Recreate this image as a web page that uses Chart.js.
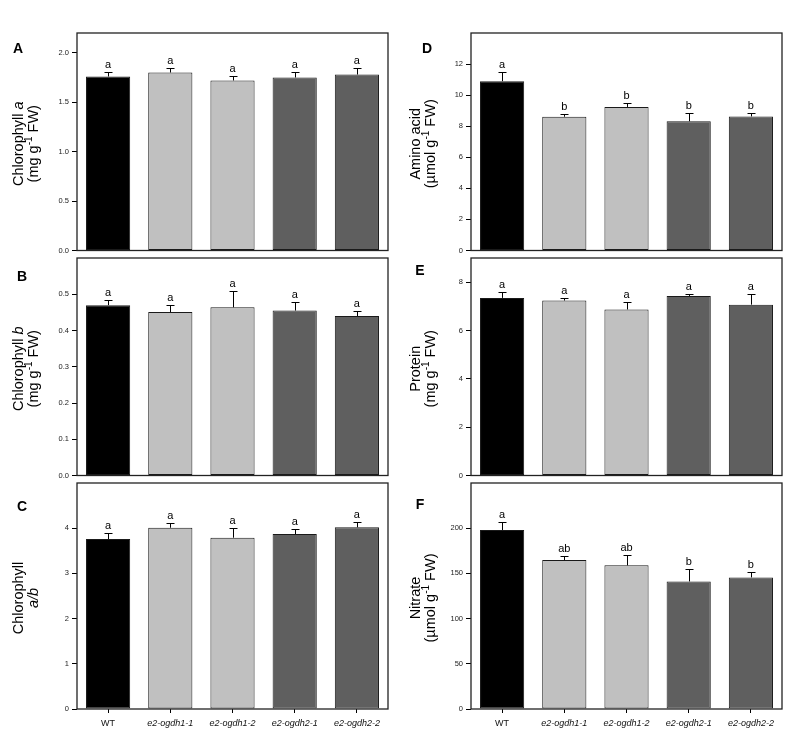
<!DOCTYPE html>
<html>
<head>
<meta charset="utf-8">
<script src="https://cdn.jsdelivr.net/npm/chart.js@4.4.1/dist/chart.umd.min.js"></script>
<style>
  body { margin: 0; background: #fff; }
  #wrap { position: relative; width: 800px; height: 738px; }
  canvas { position: absolute; }
</style>
</head>
<body>
<div id="wrap"></div>
<script>
const groups = ['WT', 'e2-ogdh1-1', 'e2-ogdh1-2', 'e2-ogdh2-1', 'e2-ogdh2-2'];
const barColors = ['#000000', '#c0c0c0', '#c0c0c0', '#5f5f5f', '#5f5f5f'];

// A: chlorophyll a (mg g-1 FW)
const chlA = [1.76, 1.80, 1.72, 1.75, 1.78];
const chlAErr = [0.05, 0.05, 0.05, 0.06, 0.07];
const chlALetters = ['a', 'a', 'a', 'a', 'a'];
// B: chlorophyll b (mg g-1 FW)
const chlB = [0.470, 0.451, 0.464, 0.455, 0.440];
const chlBErr = [0.013, 0.019, 0.045, 0.025, 0.015];
const chlBLetters = ['a', 'a', 'a', 'a', 'a'];
// C: chlorophyll a/b
const chlAB = [3.76, 4.01, 3.79, 3.87, 4.02];
const chlABErr = [0.13, 0.11, 0.22, 0.12, 0.12];
const chlABLetters = ['a', 'a', 'a', 'a', 'a'];
// D: amino acid (umol g-1 FW)
const aminoAcid = [10.9, 8.61, 9.24, 8.32, 8.63];
const aminoErr = [0.56, 0.17, 0.24, 0.52, 0.19];
const aminoLetters = ['a', 'b', 'b', 'b', 'b'];
// E: protein (mg g-1 FW)
const protein = [7.35, 7.24, 6.87, 7.43, 7.07];
const proteinErr = [0.24, 0.11, 0.32, 0.08, 0.45];
const proteinLetters = ['a', 'a', 'a', 'a', 'a'];
// F: nitrate (umol g-1 FW)
const nitrate = [198, 164.7, 158.9, 141.1, 145.6];
const nitrateErr = [9, 5, 11.4, 14.1, 5.9];
const nitrateLetters = ['a', 'ab', 'ab', 'b', 'b'];

const FONT = '"Liberation Sans", Arial, sans-serif';

const mgUnit = [{ t: '(mg g' }, { t: '-1', sup: true }, { t: ' FW)' }];
const umolUnit = [{ t: '(\u00b5mol g' }, { t: '-1', sup: true }, { t: ' FW)' }];

const panels = [
  { tag: 'A', col: 0, row: 0, values: chlA, errors: chlAErr, letters: chlALetters, max: 2.2, step: 0.5, dec: 1,
    tagPos: [18, 49], title: [[{ t: 'Chlorophyll ' }, { t: 'a', it: true }], mgUnit] },
  { tag: 'B', col: 0, row: 1, values: chlB, errors: chlBErr, letters: chlBLetters, max: 0.6, step: 0.1, dec: 1,
    tagPos: [22, 277], title: [[{ t: 'Chlorophyll ' }, { t: 'b', it: true }], mgUnit] },
  { tag: 'C', col: 0, row: 2, values: chlAB, errors: chlABErr, letters: chlABLetters, max: 5, step: 1, dec: 0,
    tagPos: [22, 507], title: [[{ t: 'Chlorophyll' }], [{ t: 'a/b', it: true }]] },
  { tag: 'D', col: 1, row: 0, values: aminoAcid, errors: aminoErr, letters: aminoLetters, max: 14, step: 2, dec: 0,
    tagPos: [427, 49], title: [[{ t: 'Amino acid' }], umolUnit] },
  { tag: 'E', col: 1, row: 1, values: protein, errors: proteinErr, letters: proteinLetters, max: 9, step: 2, dec: 0,
    tagPos: [420, 271], title: [[{ t: 'Protein' }], mgUnit] },
  { tag: 'F', col: 1, row: 2, values: nitrate, errors: nitrateErr, letters: nitrateLetters, max: 250, step: 50, dec: 0,
    tagPos: [420, 505], title: [[{ t: 'Nitrate' }], umolUnit] }
];

const rowTop = [33, 258, 483];
const rowH = [225, 225, 226];
const plotLeft = [77, 71];   // inside each 400px-wide column
const plotRight = [388, 382];
const titleBase = [[-54, -39], [-51, -36]];  // baselines of the two title lines, from plot left
const PAD_TOP = 33;
const X_AXIS_H = 29;

function segFont(s) {
  return (s.it ? 'italic ' : '') + (s.sup ? '10px ' : '14.5px ') + FONT;
}

function drawRich(ctx, segs, cx, cy) {
  let w = 0;
  segs.forEach(s => { ctx.font = segFont(s); w += ctx.measureText(s.t).width; });
  let x = cx - w / 2;
  segs.forEach(s => {
    ctx.font = segFont(s);
    ctx.fillText(s.t, x, cy + (s.sup ? -6 : 0));
    x += ctx.measureText(s.t).width;
  });
}

const panelText = {
  id: 'panelText',
  afterDatasetsDraw(chart, args, opts) {
    const ctx = chart.ctx, area = chart.chartArea, y = chart.scales.y;
    const meta = chart.getDatasetMeta(0);
    ctx.save();
    // error bars and letters
    meta.data.forEach((bar, i) => {
      const top = y.getPixelForValue(opts.values[i] + opts.errors[i]);
      const x = Math.round(bar.x) + 0.5;
      ctx.strokeStyle = '#000';
      ctx.lineWidth = 1;
      ctx.beginPath();
      ctx.moveTo(x, bar.y);
      ctx.lineTo(x, Math.round(top) + 0.5);
      ctx.moveTo(x - 4, Math.round(top) + 0.5);
      ctx.lineTo(x + 4, Math.round(top) + 0.5);
      ctx.stroke();
      ctx.fillStyle = '#000';
      ctx.font = '11px ' + FONT;
      ctx.textAlign = 'center';
      ctx.textBaseline = 'alphabetic';
      ctx.fillText(opts.letters[i], bar.x, top - 4);
    });
    // frame
    ctx.strokeStyle = '#222';
    ctx.lineWidth = 1.3;
    ctx.strokeRect(area.left, area.top, area.right - area.left, area.bottom - area.top);
    // panel tag
    ctx.fillStyle = '#000';
    ctx.font = 'bold 14px ' + FONT;
    ctx.textAlign = 'center';
    ctx.textBaseline = 'middle';
    ctx.fillText(opts.tag, opts.tagX, opts.tagY);
    // axis title, two lines rotated
    ctx.textAlign = 'left';
    ctx.textBaseline = 'alphabetic';
    const cy = (area.top + area.bottom) / 2 + 2;
    opts.titleBase.forEach((off, k) => {
      ctx.save();
      ctx.translate(area.left + off, cy);
      ctx.rotate(-Math.PI / 2);
      drawRich(ctx, opts.title[k], 0, 0);
      ctx.restore();
    });
    ctx.restore();
  }
};

const wrap = document.getElementById('wrap');

panels.forEach(p => {
  const bottomRow = p.row === 2;
  const canvas = document.createElement('canvas');
  const h = PAD_TOP + rowH[p.row] + (bottomRow ? X_AXIS_H : 0);
  canvas.width = 400;
  canvas.height = h;
  canvas.style.left = (p.col * 400) + 'px';
  canvas.style.top = (rowTop[p.row] - PAD_TOP) + 'px';
  canvas.style.width = '400px';
  canvas.style.height = h + 'px';
  wrap.appendChild(canvas);

  new Chart(canvas, {
    type: 'bar',
    data: {
      labels: groups,
      datasets: [{
        data: p.values,
        backgroundColor: barColors,
        borderColor: '#1a1a1a',
        borderWidth: 1,
        borderSkipped: false,
        barPercentage: 0.71,
        categoryPercentage: 1.0
      }]
    },
    options: {
      responsive: false,
      animation: false,
      events: [],
      layout: { padding: { left: 0, top: PAD_TOP, right: 400 - plotRight[p.col], bottom: 0 } },
      plugins: {
        legend: { display: false },
        tooltip: { enabled: false },
        panelText: {
          values: p.values, errors: p.errors, letters: p.letters, tag: p.tag,
          tagX: p.tagPos[0] - p.col * 400, tagY: p.tagPos[1] - (rowTop[p.row] - PAD_TOP),
          title: p.title, titleBase: titleBase[p.col]
        }
      },
      scales: {
        x: {
          afterFit: s => { s.height = bottomRow ? X_AXIS_H : 0; },
          border: { display: false },
          grid: {
            display: bottomRow, drawOnChartArea: false, drawTicks: true,
            tickLength: 4, offset: false, color: '#000'
          },
          ticks: {
            display: bottomRow,
            padding: 5,
            color: '#111',
            maxRotation: 0,
            autoSkip: false,
            font: ctx => ({ family: FONT, size: 9, style: ctx.index > 0 ? 'italic' : 'normal' })
          }
        },
        y: {
          min: 0,
          max: p.max,
          afterFit: s => { s.width = plotLeft[p.col]; },
          afterBuildTicks: s => { s.ticks = s.ticks.filter(t => t.value < p.max - 1e-9); },
          border: { display: false },
          grid: { display: true, drawOnChartArea: false, drawTicks: true, tickLength: 5, color: '#000' },
          ticks: {
            stepSize: p.step,
            includeBounds: false,
            padding: 3,
            color: '#222',
            font: { family: FONT, size: 7.5 },
            callback: v => Number(v).toFixed(p.dec)
          }
        }
      }
    },
    plugins: [panelText]
  });
});
</script>
</body>
</html>
